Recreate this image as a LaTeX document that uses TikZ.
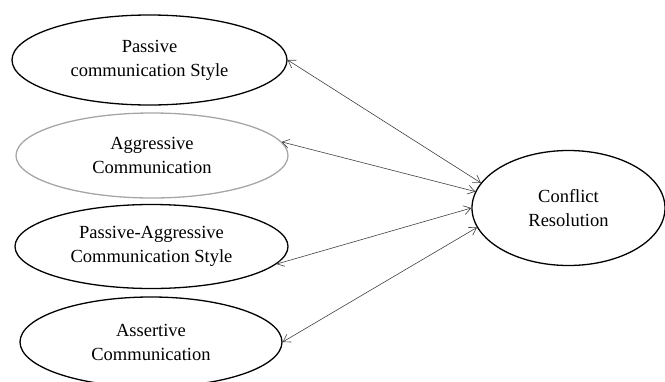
\documentclass[tikz,border=0pt]{standalone}
\usepackage{fontspec}
\setmainfont{Liberation Serif}
\usetikzlibrary{shapes.geometric,arrows.meta}
\begin{document}
\begin{tikzpicture}[x=1pt,y=-1pt,
  oval/.style={ellipse,draw=black,line width=1.3pt,inner sep=0pt,align=center,
    font=\fontsize{18.5}{24}\selectfont},
  greyoval/.style={oval,draw=black!35},
  link/.style={draw=black!75,line width=0.6pt,{Straight Barb[length=7pt,width=9pt]}-{Straight Barb[length=7pt,width=9pt]}}]
\useasboundingbox (0,0) rectangle (665,381);
\node[oval,minimum width=275pt,minimum height=90pt] (p1) at (149.5,60) {Passive\\communication Style};
\node[greyoval,minimum width=272pt,minimum height=85pt] (p2) at (152,155.5) {Aggressive\\Communication};
\node[oval,minimum width=273pt,minimum height=84pt] (p3) at (151.5,246.5) {Passive-Aggressive\\Communication Style};
\node[oval,minimum width=262pt,minimum height=90pt] (p4) at (151,342) {Assertive\\Communication};
\node[oval,minimum width=193pt,minimum height=115pt] (cr) at (568.5,208) {Conflict\\Resolution};
\draw[link] (p1.east) -- (cr.164);
\draw[link] (p2.6.5) -- (cr.170);
\draw[link] (p3.-8.5) -- (cr.180);
\draw[link] (p4.east) -- (cr.192);
\end{tikzpicture}
\end{document}
